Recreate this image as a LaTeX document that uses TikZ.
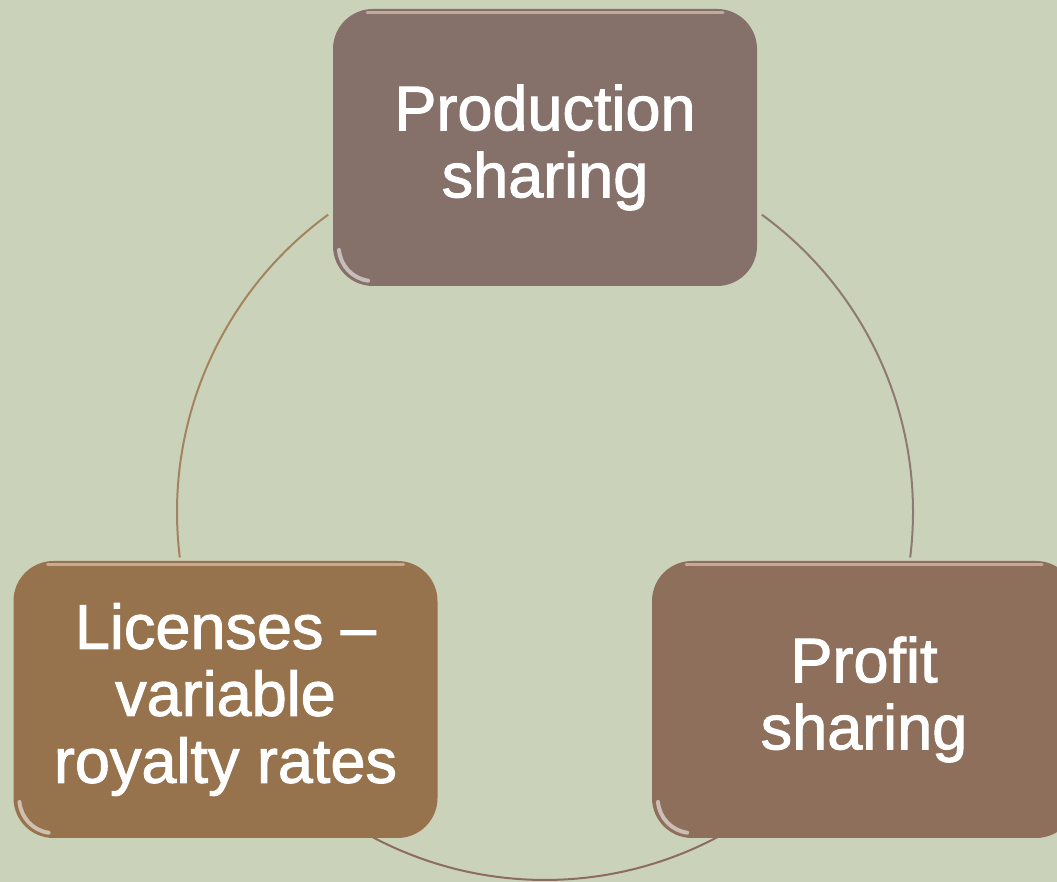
\documentclass[tikz,border=0pt]{standalone}
\usepackage{fontspec}
\setmainfont{Liberation Sans}
\newfontfamily\boxfont{Liberation Sans}[FakeBold=1.6]
\definecolor{bgc}{HTML}{CBD2BA}
\definecolor{topc}{HTML}{85706A}
\definecolor{leftc}{HTML}{96724D}
\definecolor{rightc}{HTML}{8D6F5C}
\definecolor{arcl}{HTML}{A3845C}
\definecolor{arcr}{HTML}{8E7A70}
\definecolor{arcb}{HTML}{8C6C5E}
\definecolor{hil}{HTML}{F3D9C8}
\tikzset{
  cyclebox/.style={rectangle, rounded corners=40pt, minimum width=424pt, minimum height=277pt,
    inner sep=0pt, outer sep=0pt, text=white, align=center,
    font=\boxfont\fontsize{63}{67}\selectfont},
  ring/.style={line width=2pt},
  glosstop/.style={hil, line width=3pt, opacity=.55, line cap=round},
  glosscorner/.style={white, line width=4pt, opacity=.55, line cap=round}
}
\begin{document}
\begin{tikzpicture}[x=1pt,y=1pt]
\useasboundingbox (0,0) rectangle (1057,882);
\clip (0,0) rectangle (1057,882);
\fill[bgc] (0,0) rectangle (1057,882);
\coordinate (c) at (545,370);
% ring segments
\draw[ring, arcl] ([shift={(126.1:368)}]c) arc[start angle=126.1, end angle=187.1, radius=368];
\draw[ring, arcb] ([shift={(241.9:368)}]c) arc[start angle=241.9, end angle=298.1, radius=368];
\draw[ring, arcr] ([shift={(-7.1:368)}]c) arc[start angle=-7.1, end angle=53.9, radius=368];
% boxes
\node[cyclebox, fill=topc] (top) at (545,734.5) {Production\\sharing};
\node[cyclebox, fill=leftc] (left) at (225.5,182.5) {Licenses –\\variable\\royalty rates};
\node[cyclebox, fill=rightc] (right) at (864,182.5) {Profit\\sharing};
% gloss
\foreach \b in {top,left,right}{
  \draw[glosstop] ([xshift=34pt,yshift=-4pt]\b.north west) -- ([xshift=-34pt,yshift=-4pt]\b.north east);
  \draw[glosscorner] ([xshift=6pt,yshift=36pt]\b.south west) arc[start angle=185, end angle=262, radius=34pt];
}
\end{tikzpicture}
\end{document}
